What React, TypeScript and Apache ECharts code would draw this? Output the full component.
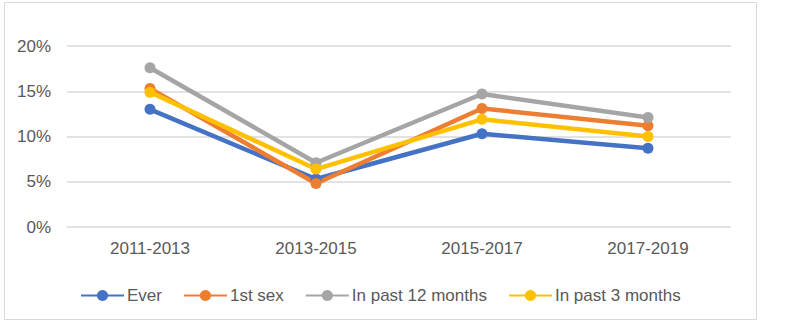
import React, { useEffect, useRef } from "react";
import * as echarts from "echarts";

const categories = ["2011-2013", "2013-2015", "2015-2017", "2017-2019"];
const seriesNames = ["Ever", "1st sex", "In past 12 months", "In past 3 months"];
const ever = [0.13, 0.053, 0.103, 0.087];
const firstSex = [0.153, 0.048, 0.131, 0.112];
const past12 = [0.176, 0.071, 0.147, 0.121];
const past3 = [0.149, 0.064, 0.119, 0.1];
const yTicks = [0, 0.05, 0.1, 0.15, 0.2];
const colors = ["#4472C4", "#ED7D31", "#A5A5A5", "#FFC000"];

export default function App() {
  const ref = useRef<HTMLDivElement>(null);
  useEffect(() => {
    const chart = echarts.init(ref.current!, null, { renderer: "svg" });
    const font = "'Liberation Sans', 'Noto Sans', sans-serif";
    const values = [ever, firstSex, past12, past3];
    chart.setOption({
      animation: false,
      backgroundColor: "#ffffff",
      textStyle: { fontFamily: font },
      graphic: [
        {
          type: "rect",
          shape: { x: 4.5, y: 2.5, width: 752, height: 317 },
          style: { fill: "none", stroke: "#d9d9d9", lineWidth: 1 },
          silent: true,
        },
      ],
      grid: { left: 67, right: 59, top: 46, bottom: 108, containLabel: false },
      xAxis: {
        type: "category",
        data: categories,
        axisLine: { show: false },
        axisTick: { show: false },
        axisLabel: { color: "#595959", fontSize: 17, margin: 13, fontFamily: font },
      },
      yAxis: {
        type: "value",
        min: yTicks[0],
        max: yTicks[yTicks.length - 1],
        interval: 0.05,
        axisLine: { show: false },
        axisTick: { show: false },
        splitLine: { lineStyle: { color: "#d9d9d9", width: 1.5 } },
        axisLabel: {
          color: "#595959",
          fontSize: 17,
          margin: 16,
          fontFamily: font,
          formatter: (v: number) => Math.round(v * 100) + "%",
        },
      },
      legend: {
        top: 282,
        left: 75,
        itemWidth: 43,
        itemHeight: 14,
        itemGap: 21,
        textStyle: { color: "#595959", fontSize: 17, fontFamily: font, padding: [0, 0, 0, -2] },
        data: seriesNames,
      },
      series: seriesNames.map((name, i) => ({
        name,
        type: "line",
        data: values[i],
        color: colors[i],
        symbol: "circle",
        symbolSize: 11,
        lineStyle: { width: 4.5, color: colors[i] },
        itemStyle: { color: colors[i] },
      })),
    });
    return () => chart.dispose();
  }, []);
  return (
    <div
      ref={ref}
      style={{ position: "fixed", left: 0, top: 0, width: 790, height: 335 }}
    />
  );
}
